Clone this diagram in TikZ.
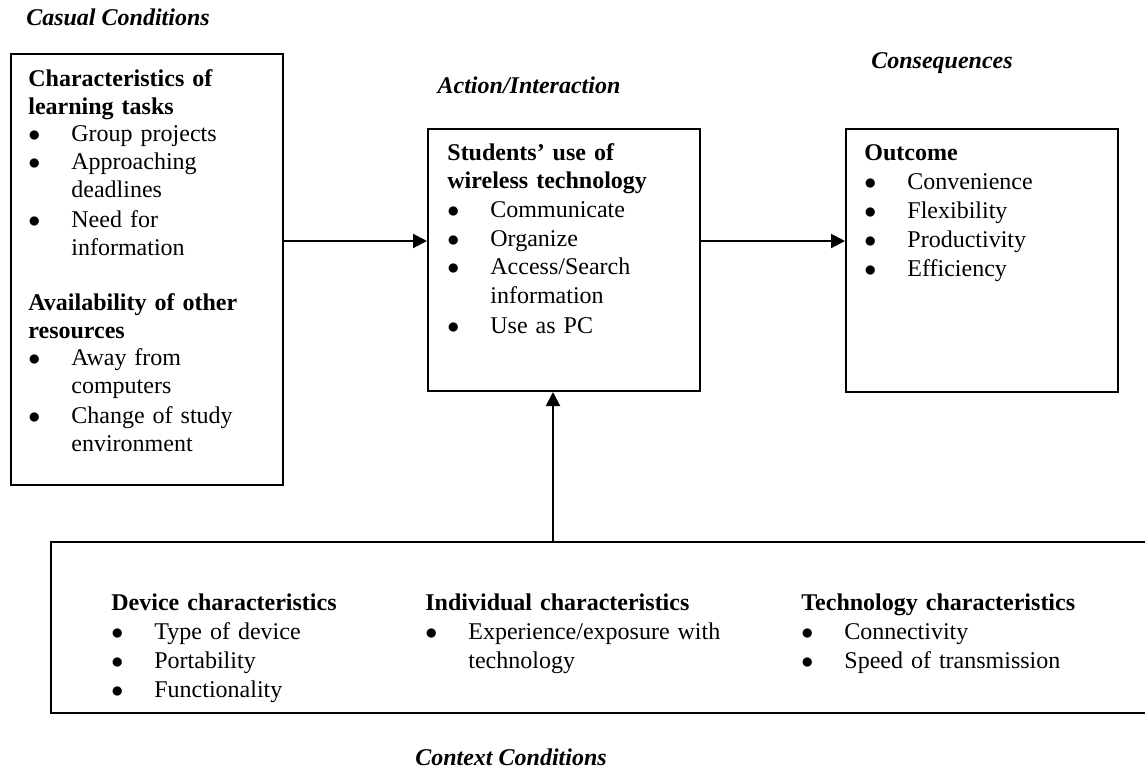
\documentclass[tikz,border=0pt]{standalone}
\usepackage{fontspec}
\setmainfont{Liberation Serif}
\usepackage{tikz}
\usetikzlibrary{arrows.meta}
\setlength{\parindent}{0pt}
\newcommand{\bitem}[1]{\par\noindent\makebox[21.5pt][l]{$\bullet$}\begin{tabular}[t]{@{}l@{}}#1\end{tabular}}

\begin{document}
\begin{tikzpicture}[x=0.5pt, y=-0.5pt,
		box/.style={draw, line width=1pt, inner sep=0pt, anchor=north west},
		txt/.style={anchor=north west, inner sep=0pt, align=left},
		head/.style={inner sep=0pt, font=\fontsize{12}{14.4}\selectfont\bfseries\itshape},
		flow/.style={-{Triangle[length=7pt, width=7pt]}, line width=1pt}]
		\clip (0,0) rectangle (1145,768);
		\node[box, minimum width=136pt, minimum height=215.5pt] (cause) at (10,53) {};
		\node[box, minimum width=136pt, minimum height=131pt] (action) at (427,128) {};
		\node[box, minimum width=136pt, minimum height=131.5pt] (outcome) at (845,128) {};
		\node[box, minimum width=560pt, minimum height=85.5pt] (context) at (50,541) {};

		\node[head] (lblcause) at (118,17) {Casual Conditions};
		\node[head] (lblaction) at (529,85) {Action/Interaction};
		\node[head] (lblconseq) at (942,63) {Consequences};
		\node[head] (lblcontext) at (511,757) {Context Conditions};

		\node[txt, text width=125pt, font=\fontsize{12}{13.9}\selectfont] (causetxt) at (28,69) {\textbf{Characteristics of}\par\textbf{learning tasks}
			\bitem{Group projects}
			\bitem{Approaching\\deadlines}
			\bitem{Need for\\information}
			\par\vspace{14pt}\textbf{Availability of other}\par\textbf{resources}
			\bitem{Away from\\computers}
			\bitem{Change of study\\environment}};
		\node[txt, text width=125pt, font=\fontsize{12}{14.3}\selectfont] (actiontxt) at (447,143) {\textbf{Students' use of}\par\textbf{wireless technology}
			\bitem{Communicate}
			\bitem{Organize}
			\bitem{Access/Search\\information}
			\bitem{Use as PC}};
		\node[txt, text width=120pt, font=\fontsize{12}{14.5}\selectfont] (outcometxt) at (864,144) {\textbf{Outcome}
			\bitem{Convenience}
			\bitem{Flexibility}
			\bitem{Productivity}
			\bitem{Efficiency}};
		\node[txt, text width=140pt, font=\fontsize{12}{14.5}\selectfont] (devicetxt) at (111,593) {\textbf{Device characteristics}
			\bitem{Type of device}
			\bitem{Portability}
			\bitem{Functionality}};
		\node[txt, text width=175pt, font=\fontsize{12}{14.5}\selectfont] (persontxt) at (425,593) {\textbf{Individual characteristics}
			\bitem{Experience/exposure with\\technology}};
		\node[txt, text width=150pt, font=\fontsize{12}{14.5}\selectfont] (techtxt) at (801,593) {\textbf{Technology characteristics}
			\bitem{Connectivity}
			\bitem{Speed of transmission}};

		\coordinate (row) at (0,241);
		\coordinate (col) at (553,0);
		\draw[flow] (cause.east |- row) -- (action.west |- row);
		\draw[flow] (action.east |- row) -- (outcome.west |- row);
		\draw[flow] (context.north -| col) -- (action.south -| col);
	\end{tikzpicture}
\end{document}
